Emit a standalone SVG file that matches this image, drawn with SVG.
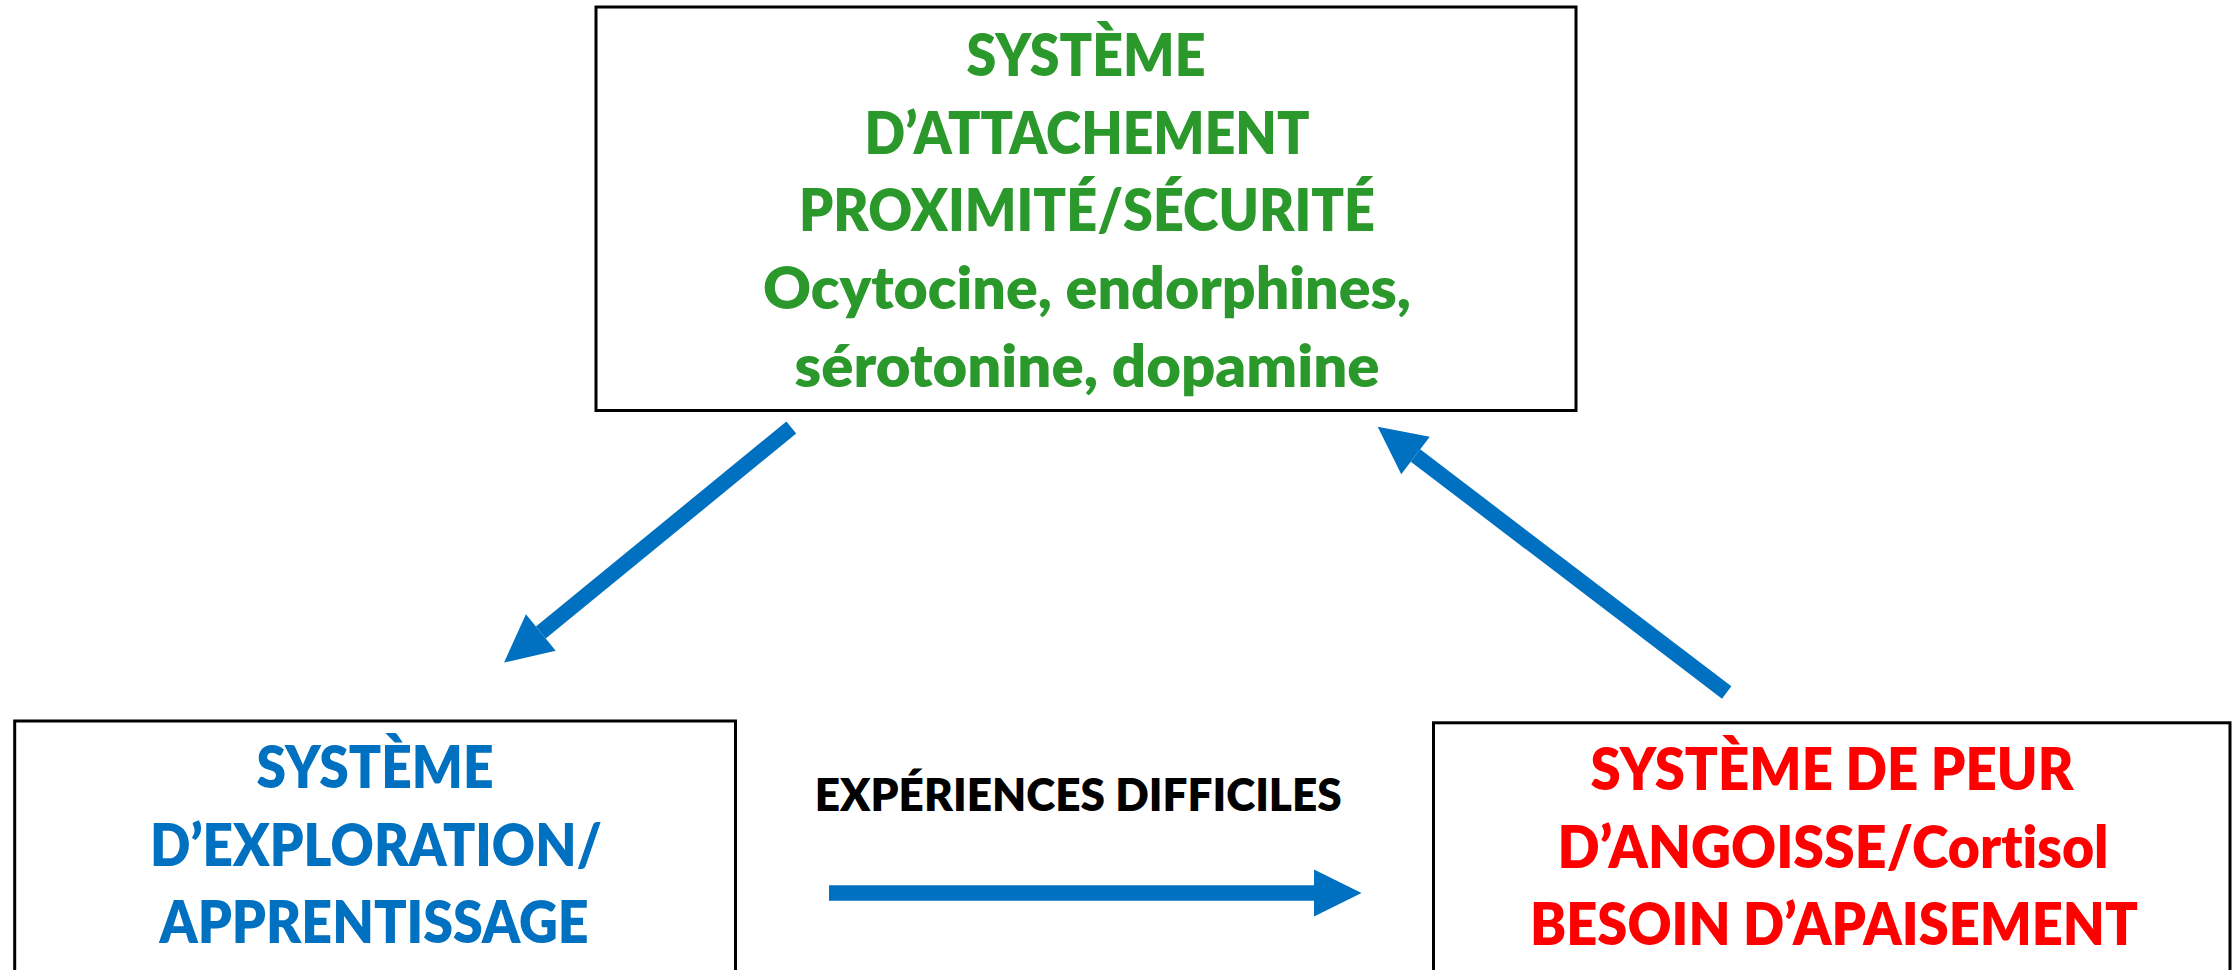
<svg xmlns="http://www.w3.org/2000/svg" width="2232" height="970" viewBox="0 0 2232 970">
<style>
.box{fill:#FFFFFF;stroke:#000000;stroke-width:3}
.t{font-family:Lato,"Open Sans","Liberation Sans",sans-serif;font-weight:800;text-anchor:middle;font-variant-ligatures:none;font-feature-settings:"liga" 0,"dlig" 0}
.g{fill:#2A982B;font-size:58px}
.b{fill:#0070C0;font-size:58px}
.r{fill:#FF0000;font-size:58px}
.k{fill:#000000;font-size:45px}
.arr{stroke:#0070C0;stroke-width:15.5;fill:none;stroke-linecap:butt}
</style>
<defs>
<marker id="head" markerUnits="userSpaceOnUse" markerWidth="48" markerHeight="48" refX="0" refY="23.5" orient="auto" overflow="visible">
<path d="M0,0 L47.5,23.5 L0,47 Z" fill="#0070C0"/>
</marker>
</defs>
<rect width="2232" height="970" fill="#FFFFFF"/>
<g id="connectors">
<line class="arr" x1="791.3" y1="427.5" x2="540.8" y2="632.5" marker-end="url(#head)"/>
<line class="arr" x1="1726.7" y1="692.5" x2="1415.5" y2="455.5" marker-end="url(#head)"/>
<line class="arr" x1="829" y1="893" x2="1314" y2="893" marker-end="url(#head)"/>
</g>
<g id="node-attachement">
<rect class="box" x="596" y="7" width="980" height="403.5"/>
<text class="t g" x="1086" y="75.5" textLength="239" lengthAdjust="spacingAndGlyphs">SYSTÈME</text>
<text class="t g" x="1087" y="153.5" textLength="445" lengthAdjust="spacingAndGlyphs">D’ATTACHEMENT</text>
<text class="t g" x="1087" y="231" textLength="576" lengthAdjust="spacingAndGlyphs">PROXIMITÉ/SÉCURITÉ</text>
<text class="t g" x="1087" y="309" textLength="648" lengthAdjust="spacingAndGlyphs">Ocytocine, endorphines,</text>
<text class="t g" x="1087" y="386.5" textLength="585" lengthAdjust="spacingAndGlyphs">sérotonine, dopamine</text>
</g>
<g id="node-exploration">
<rect class="box" x="14.7" y="721" width="720.8" height="262"/>
<text class="t b" x="375" y="788.3" textLength="237" lengthAdjust="spacingAndGlyphs">SYSTÈME</text>
<text class="t b" x="376" y="866" textLength="452" lengthAdjust="spacingAndGlyphs">D’EXPLORATION/</text>
<text class="t b" x="374" y="943" textLength="429" lengthAdjust="spacingAndGlyphs">APPRENTISSAGE</text>
</g>
<g id="node-peur">
<rect class="box" x="1433.5" y="722.8" width="796.5" height="262"/>
<text class="t r" x="1832" y="790" textLength="483" lengthAdjust="spacingAndGlyphs">SYSTÈME DE PEUR</text>
<text class="t r" x="1833" y="868" textLength="551" lengthAdjust="spacingAndGlyphs">D’ANGOISSE/Cortisol</text>
<text class="t r" x="1834" y="945" textLength="608" lengthAdjust="spacingAndGlyphs">BESOIN D’APAISEMENT</text>
</g>
<g id="label-experiences">
<text class="t k" x="1078.3" y="810.7" textLength="527" lengthAdjust="spacingAndGlyphs">EXPÉRIENCES DIFFICILES</text>
</g>
</svg>
